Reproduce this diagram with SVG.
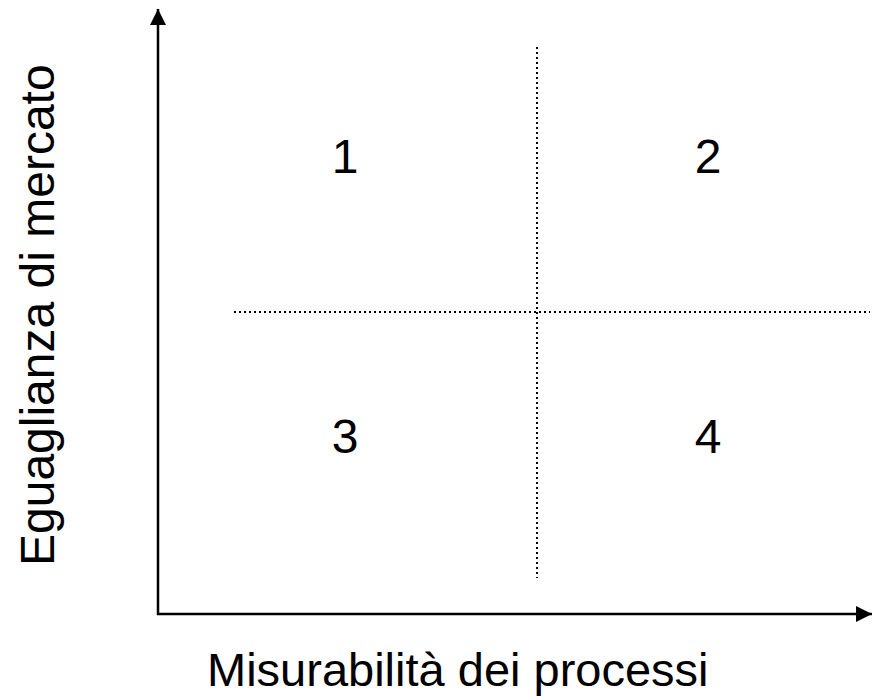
<svg xmlns="http://www.w3.org/2000/svg" width="872" height="700" viewBox="0 0 872 700">
<style>
.t{font-family:"Liberation Sans",Arial,sans-serif;fill:#000}
.num{font-size:48px;text-anchor:middle}
.ax{stroke:#000;stroke-width:2.5;fill:none}
.dot{stroke:#000;stroke-width:2;stroke-dasharray:2 3;fill:none}
</style>
<defs>
<marker id="ah" viewBox="0 0 16 16" refX="16" refY="8" markerWidth="16" markerHeight="16" markerUnits="userSpaceOnUse" orient="auto">
<path d="M0,0 L16,8 L0,16 Z" fill="#000"/>
</marker>
</defs>
<g id="connectors">
<line class="ax" x1="158" y1="615" x2="158" y2="9" marker-end="url(#ah)"/>
<line class="ax" x1="157" y1="614" x2="872" y2="614" marker-end="url(#ah)"/>
<line class="dot" x1="537" y1="47" x2="537" y2="578"/>
<line class="dot" x1="234" y1="312" x2="870" y2="312"/>
</g>
<g id="q1"><text class="t num" x="345" y="173">1</text></g>
<g id="q2"><text class="t num" x="708" y="173">2</text></g>
<g id="q3"><text class="t num" x="345" y="453">3</text></g>
<g id="q4"><text class="t num" x="708" y="453">4</text></g>
<g id="xlabel"><text class="t" x="207" y="686" font-size="47">Misurabilità dei processi</text></g>
<g id="ylabel"><text class="t" transform="translate(54,566) rotate(-90)" font-size="48">Eguaglianza di mercato</text></g>
</svg>
